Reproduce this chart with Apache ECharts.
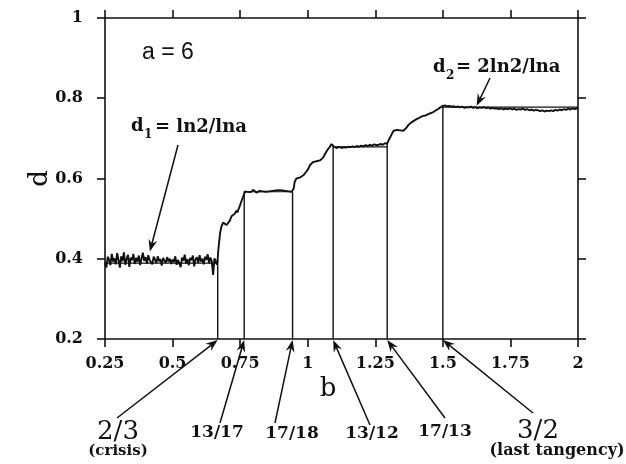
<!DOCTYPE html>
<html>
<head>
<meta charset="utf-8">
<script src="https://cdn.jsdelivr.net/npm/echarts@6/dist/echarts.min.js"></script>
<style>
  html, body { margin: 0; padding: 0; background: #fff; }
  #main { width: 626px; height: 464px; }
</style>
</head>
<body>
<div id="main"></div>
<script>
// b values on the x axis, d (dimension) on the y axis
var xTicks = [0.25, 0.5, 0.75, 1, 1.25, 1.5, 1.75, 2];
var yTicks = [0.2, 0.4, 0.6, 0.8, 1];

var dimCurve = [
  [0.250,0.392],[0.255,0.378],[0.260,0.405],[0.265,0.398],[0.270,0.384],[0.275,0.412],[0.280,0.393],
  [0.285,0.401],[0.290,0.386],[0.295,0.414],[0.300,0.397],[0.305,0.378],[0.310,0.406],[0.315,0.394],
  [0.320,0.416],[0.325,0.385],[0.330,0.399],[0.335,0.410],[0.340,0.380],[0.345,0.403],[0.350,0.396],
  [0.355,0.412],[0.360,0.387],[0.365,0.402],[0.370,0.393],[0.375,0.408],[0.380,0.384],[0.385,0.400],
  [0.390,0.415],[0.395,0.395],[0.400,0.404],[0.405,0.388],[0.410,0.409],[0.415,0.397],[0.420,0.401],
  [0.425,0.386],[0.430,0.405],[0.435,0.398],[0.440,0.390],[0.445,0.406],[0.450,0.394],[0.455,0.399],
  [0.460,0.383],[0.465,0.402],[0.470,0.396],[0.475,0.389],[0.480,0.404],[0.485,0.393],[0.490,0.400],
  [0.495,0.387],[0.500,0.398],[0.505,0.392],[0.510,0.406],[0.515,0.385],[0.520,0.397],[0.525,0.401],
  [0.530,0.379],[0.535,0.403],[0.540,0.395],[0.545,0.410],[0.550,0.388],[0.555,0.399],[0.560,0.384],
  [0.565,0.402],[0.570,0.396],[0.575,0.408],[0.580,0.381],[0.585,0.398],[0.590,0.404],[0.595,0.390],
  [0.600,0.409],[0.605,0.393],[0.610,0.400],[0.615,0.386],[0.620,0.405],[0.625,0.397],[0.630,0.411],
  [0.635,0.389],[0.640,0.403],[0.645,0.394],[0.650,0.360],[0.655,0.401],[0.660,0.392],[0.664,0.385],
  [0.667,0.400],[0.669,0.420],[0.672,0.440],[0.676,0.465],[0.681,0.481],[0.687,0.490],[0.693,0.486],
  [0.700,0.484],[0.706,0.481],[0.712,0.495],[0.718,0.506],[0.724,0.503],[0.730,0.512],[0.736,0.520],
  [0.740,0.515],[0.743,0.522],[0.748,0.530],[0.755,0.544],[0.761,0.548],[0.765,0.562],[0.770,0.568],
  [0.775,0.571],[0.780,0.566],[0.786,0.570],[0.792,0.567],[0.798,0.572],[0.804,0.568],[0.810,0.565],
  [0.816,0.567],[0.822,0.569],[0.828,0.566],[0.834,0.568],[0.840,0.564],[0.846,0.567],[0.852,0.566],
  [0.858,0.568],[0.864,0.566],[0.870,0.569],[0.876,0.567],[0.882,0.570],[0.888,0.568],[0.894,0.571],
  [0.900,0.569],[0.906,0.570],[0.912,0.567],[0.918,0.569],[0.924,0.566],[0.930,0.568],[0.936,0.565],
  [0.941,0.567],[0.944,0.564],[0.948,0.575],[0.952,0.592],[0.958,0.600],[0.964,0.604],[0.970,0.602],
  [0.977,0.606],[0.984,0.608],[0.990,0.612],[0.996,0.618],[1.002,0.624],[1.008,0.633],[1.014,0.637],
  [1.020,0.641],[1.026,0.639],[1.032,0.643],[1.038,0.642],[1.045,0.645],[1.051,0.646],[1.057,0.652],
  [1.064,0.661],[1.070,0.668],[1.076,0.674],[1.082,0.679],[1.088,0.686],[1.094,0.681],[1.100,0.678],
  [1.106,0.676],[1.112,0.677],[1.118,0.679],[1.126,0.676],[1.134,0.678],[1.142,0.677],[1.150,0.679],
  [1.158,0.678],[1.166,0.680],[1.174,0.678],[1.182,0.681],[1.190,0.679],[1.198,0.682],[1.206,0.680],
  [1.214,0.683],[1.222,0.681],[1.230,0.684],[1.238,0.682],[1.246,0.685],[1.254,0.683],[1.262,0.684],
  [1.270,0.686],[1.278,0.684],[1.286,0.688],[1.294,0.687],[1.300,0.696],[1.306,0.704],[1.312,0.712],
  [1.318,0.719],[1.324,0.717],[1.330,0.721],[1.336,0.723],[1.342,0.720],[1.348,0.722],[1.354,0.719],
  [1.360,0.721],[1.366,0.727],[1.372,0.733],[1.378,0.737],[1.384,0.740],[1.391,0.744],[1.398,0.746],
  [1.405,0.749],[1.412,0.751],[1.420,0.754],[1.428,0.756],[1.436,0.757],[1.444,0.760],[1.452,0.762],
  [1.460,0.764],[1.466,0.766],[1.472,0.769],[1.480,0.772],[1.488,0.776],[1.495,0.779],[1.500,0.781],
  [1.508,0.782],[1.516,0.780],[1.524,0.781],[1.532,0.779],[1.540,0.780],[1.548,0.778],[1.556,0.780],
  [1.564,0.777],[1.572,0.779],[1.580,0.776],[1.588,0.778],[1.596,0.777],[1.604,0.779],[1.612,0.776],
  [1.620,0.778],[1.628,0.775],[1.636,0.777],[1.644,0.776],[1.652,0.778],[1.660,0.775],[1.668,0.777],
  [1.676,0.774],[1.684,0.776],[1.692,0.774],[1.700,0.775],[1.708,0.773],[1.716,0.775],[1.724,0.772],
  [1.732,0.774],[1.740,0.773],[1.748,0.775],[1.756,0.772],[1.764,0.774],[1.772,0.771],[1.780,0.773],
  [1.788,0.772],[1.796,0.774],[1.804,0.771],[1.812,0.773],[1.820,0.770],[1.828,0.772],[1.836,0.769],
  [1.844,0.771],[1.852,0.770],[1.860,0.768],[1.868,0.770],[1.876,0.767],[1.884,0.769],[1.892,0.768],
  [1.900,0.770],[1.908,0.768],[1.916,0.771],[1.924,0.769],[1.932,0.772],[1.940,0.770],[1.948,0.773],
  [1.956,0.771],[1.964,0.774],[1.972,0.772],[1.980,0.775],[1.988,0.773],[1.996,0.775],[2.000,0.774]
];

// periodic windows: position on b, label, and top of the vertical line
var windowB     = [0.667, 0.765, 0.944, 1.094, 1.294, 1.5];
var windowTop   = [0.398, 0.568, 0.566, 0.684, 0.688, 0.781];
var windowLabel = ['2/3', '13/17', '17/18', '13/12', '17/13', '3/2'];

// flat levels (d1, plateaus, d2)
var levelFrom = [0.25, 0.765, 1.094, 1.5];
var levelTo   = [0.667, 0.944, 1.294, 2];
var levelD    = [0.389, 0.567, 0.679, 0.778];

var ink = '#111';
var serif = '"DejaVu Serif", "Liberation Serif", serif';

var guideSeries = [];
windowB.forEach(function (b, i) {
  guideSeries.push({
    type: 'line', xAxisIndex: 0, yAxisIndex: 0, symbol: 'none', silent: true,
    lineStyle: { color: ink, width: 1.4 },
    data: [[b, 0.2], [b, windowTop[i]]]
  });
});
levelD.forEach(function (d, i) {
  guideSeries.push({
    type: 'line', xAxisIndex: 0, yAxisIndex: 0, symbol: 'none', silent: true,
    lineStyle: { color: ink, width: 1.2 },
    data: [[levelFrom[i], d], [levelTo[i], d]]
  });
});

var axisCommon = {
  type: 'value',
  axisLine: { show: true, onZero: false, lineStyle: { color: ink, width: 1.6 } },
  axisTick: { show: true, inside: false, length: 8, lineStyle: { color: ink, width: 1.6 } },
  splitLine: { show: false }
};
var labelFont = { color: ink, fontFamily: serif, fontSize: 16, fontWeight: 'bold' };

var option = {
  backgroundColor: '#fff',
  animation: false,
  grid: { left: 105, right: 48, top: 18, bottom: 125 },
  xAxis: [
    Object.assign({}, axisCommon, {
      position: 'bottom', min: 0.25, max: 2, interval: 0.25,
      axisLabel: Object.assign({ margin: 17 }, labelFont),
      name: 'b', nameLocation: 'middle', nameGap: 37, nameMoveOverlap: false,
      nameTextStyle: { color: ink, fontFamily: serif, fontSize: 26, padding: [0, 27, 0, 0] }
    }),
    Object.assign({}, axisCommon, {
      position: 'top', min: 0.25, max: 2, interval: 0.25,
      axisLabel: { show: false }
    })
  ],
  yAxis: [
    Object.assign({}, axisCommon, {
      position: 'left', min: 0.2, max: 1, interval: 0.2,
      axisLabel: Object.assign({ margin: 22 }, labelFont),
      name: 'd', nameLocation: 'middle', nameGap: 52, nameRotate: 90, nameMoveOverlap: false,
      nameTextStyle: { color: ink, fontFamily: serif, fontSize: 26 }
    }),
    Object.assign({}, axisCommon, {
      position: 'right', min: 0.2, max: 1, interval: 0.2,
      axisLabel: { show: false }
    })
  ],
  series: [{
    name: 'd(b)', type: 'line', xAxisIndex: 0, yAxisIndex: 0,
    symbol: 'none', silent: true,
    lineStyle: { color: ink, width: 1.9 },
    data: dimCurve
  }].concat(guideSeries)
};

var chart = echarts.init(document.getElementById('main'));
chart.setOption(option);

// annotations: arrow heads sit on data points, tails/labels are placed by hand
function toPx(b, d) { return chart.convertToPixel({ gridIndex: 0 }, [b, d]); }
var graphics = [];
function arrow(tail, head) {
  var dx = head[0] - tail[0], dy = head[1] - tail[1];
  var len = Math.sqrt(dx * dx + dy * dy);
  var ux = dx / len, uy = dy / len, nx = -uy, ny = ux;
  graphics.push({
    type: 'line', silent: true,
    shape: { x1: tail[0], y1: tail[1], x2: head[0] - ux * 7, y2: head[1] - uy * 7 },
    style: { stroke: ink, lineWidth: 1.5 }
  });
  graphics.push({
    type: 'polygon', silent: true,
    shape: { points: [
      [head[0], head[1]],
      [head[0] - ux * 12 + nx * 4.5, head[1] - uy * 12 + ny * 4.5],
      [head[0] - ux * 8, head[1] - uy * 8],
      [head[0] - ux * 12 - nx * 4.5, head[1] - uy * 12 - ny * 4.5]
    ] },
    style: { fill: ink }
  });
}
function text(t, x, y, font, align) {
  graphics.push({
    type: 'text', silent: true, x: x, y: y,
    style: { text: t, font: font, fill: ink, align: align || 'center', verticalAlign: 'middle' }
  });
}

var tailPx = [[117, 418], [220, 423], [275, 423], [370, 425], [445, 418], [533, 413]];
var labelPx = [[118, 432], [217, 433], [292, 434], [372, 434], [445, 432], [538, 431]];
windowB.forEach(function (b, i) {
  var h = toPx(b, 0.2);
  arrow(tailPx[i], [h[0], h[1] + 1]);
  var big = (i === 0 || i === 5);
  text(windowLabel[i], labelPx[i][0], labelPx[i][1],
    big ? '26px ' + serif : 'bold 17px ' + serif);
});
text('(crisis)', 118, 451, 'bold 15px ' + serif);
text('(last tangency)', 557, 451, 'bold 16px ' + serif);

// d1 and d2 pointers onto the curve
arrow([178, 145], toPx(0.416, 0.418));
arrow([490, 78], toPx(1.625, 0.781));

text('a = 6', 142, 53, '500 23px "Liberation Sans", Arial, sans-serif', 'left');
text('d', 131, 126, 'bold 18px ' + serif, 'left');
text('1', 144, 135, 'bold 12px ' + serif, 'left');
text('= ln2/lna', 155, 127, 'bold 18px ' + serif, 'left');
text('d', 433, 67, 'bold 18px ' + serif, 'left');
text('2', 446, 76, 'bold 12px ' + serif, 'left');
text('= 2ln2/lna', 456, 67, 'bold 18px ' + serif, 'left');

chart.setOption({ graphic: graphics });
</script>
</body>
</html>
